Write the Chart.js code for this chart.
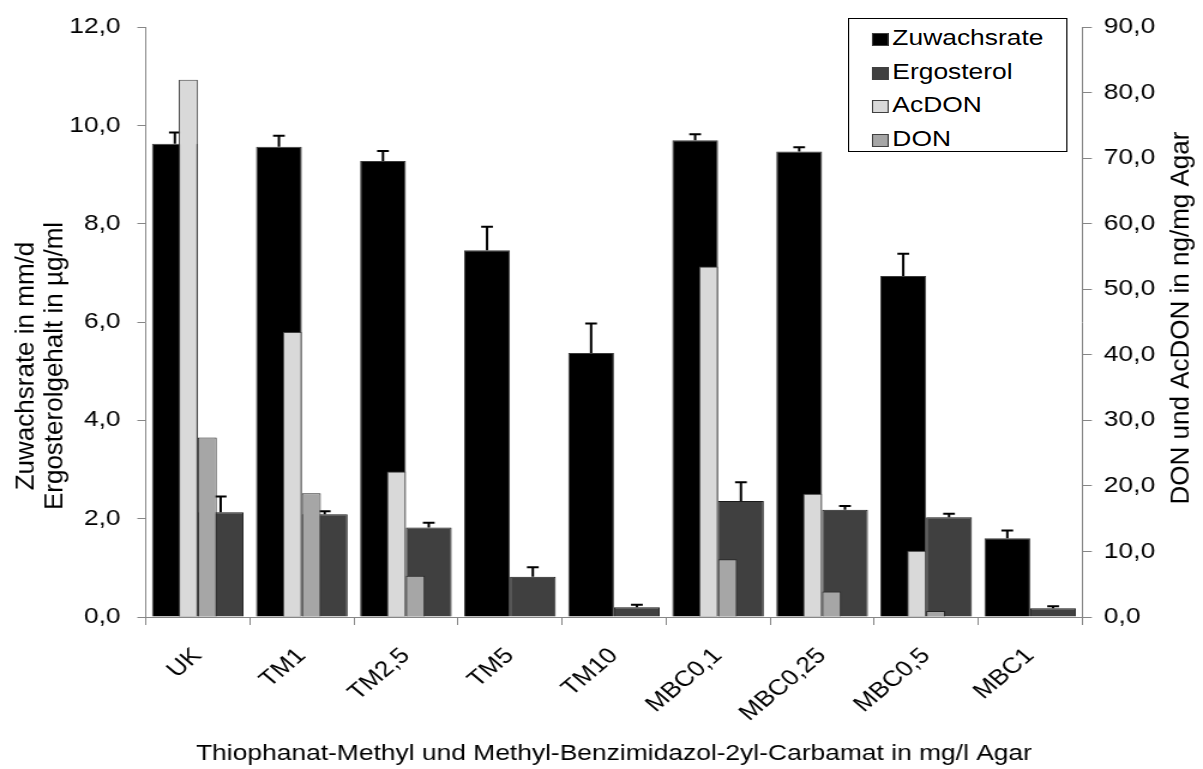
<!DOCTYPE html>
<html>
<head>
<meta charset="utf-8">
<script src="https://cdn.jsdelivr.net/npm/chart.js@4/dist/chart.umd.min.js"></script>
<style>
  html, body { margin: 0; padding: 0; background: #fff; overflow: hidden; }
  #wrap { position: absolute; left: 0; top: 0; width: 1003px; height: 769px; transform: scaleX(1.1994); transform-origin: 0 0; }
  #legend { position: absolute; left: 707px; top: 18px; width: 183px; height: 134px; border: 1px solid #000; background: #fff;
            font-family: 'Liberation Sans', Arial, sans-serif; font-size: 22px; color: #000; padding-top: 2px; box-sizing: border-box; }
  .row { height: 33.5px; line-height: 33.5px; padding-left: 19px; white-space: nowrap; }
  .box { display: inline-block; width: 12px; height: 11px; border: 1px solid #404040; margin-right: 3px; vertical-align: -1px; }
</style>
</head>
<body>
<div id="wrap">
  <canvas id="myChart" width="1003" height="769"></canvas>
  <div id="legend"></div>
</div>
<script>
const kategorien = ["UK", "TM1", "TM2,5", "TM5", "TM10", "MBC0,1", "MBC0,25", "MBC0,5", "MBC1"];
const zuwachsrate = [9.63, 9.57, 9.28, 7.46, 5.37, 9.70, 9.47, 6.94, 1.60];
const zuwachsrateFehler = [0.23, 0.22, 0.20, 0.48, 0.60, 0.12, 0.09, 0.45, 0.16];
const ergosterol = [2.13, 2.09, 1.82, 0.82, 0.20, 2.36, 2.18, 2.03, 0.18];
const ergosterolFehler = [0.32, 0.06, 0.10, 0.19, 0.05, 0.38, 0.08, 0.07, 0.04];
const acdon = [82.0, 43.5, 22.2, 0, 0, 53.5, 18.8, 10.1, 0];
const don = [27.4, 18.9, 6.3, 0, 0, 8.8, 3.9, 0.9, 0];

const linksTicks = [0, 2, 4, 6, 8, 10, 12];
const rechtsTicks = [0, 10, 20, 30, 40, 50, 60, 70, 80, 90];

const SX = 1.1994; // horizontal stretch of the whole picture
const schrift = "'Liberation Sans', Arial, sans-serif";
const achsenFarbe = "#868686";

function komma(v) {
    return Number(v).toFixed(1).replace(".", ",");
}

// bars are grouped per x axis only (primary and secondary groups overlap, like in Excel)
class GruppenBalken extends Chart.BarController {
    _calculateBarIndexPixels(index, ruler) {
        const meta = this._cachedMeta;
        const iScale = meta.iScale;
        const gruppe = [];
        this.chart.data.datasets.forEach((d, i) => {
            if (this.chart.getDatasetMeta(i).xAxisID === meta.xAxisID) gruppe.push(i);
        });
        const mitte = iScale.getPixelForValue(index);
        const kategorie = Math.abs(iScale.getPixelForValue(1) - iScale.getPixelForValue(0));
        const breite = kategorie * this.options.categoryPercentage;
        const stueck = breite / gruppe.length;
        const center = mitte - breite / 2 + stueck * gruppe.indexOf(this.index) + stueck / 2;
        const size = stueck * this.options.barPercentage;
        return { base: center - size / 2, head: center + size / 2, center, size };
    }
}
GruppenBalken.id = "gruppenBalken";
GruppenBalken.defaults = Chart.BarController.defaults;
GruppenBalken.overrides = Chart.BarController.overrides;
Chart.register(GruppenBalken);

// error bars (upper only), drawn right after their own dataset
const fehlerBalken = {
    id: "fehlerBalken",
    afterDatasetDraw(chart, args) {
        const ds = chart.data.datasets[args.index];
        if (!ds.fehler) return;
        const yScale = chart.scales[ds.yAxisID];
        const ctx = chart.ctx;
        ctx.save();
        ctx.strokeStyle = "#000";
        ctx.lineWidth = 2;
        args.meta.data.forEach((bar, i) => {
            const oben = yScale.getPixelForValue(ds.data[i] + ds.fehler[i]);
            ctx.beginPath();
            ctx.moveTo(bar.x, bar.y);
            ctx.lineTo(bar.x, oben);
            ctx.moveTo(bar.x - 4.9, oben);
            ctx.lineTo(bar.x + 4.9, oben);
            ctx.stroke();
        });
        ctx.restore();
    }
};

// axis titles
const achsenTitel = {
    id: "achsenTitel",
    afterDraw(chart) {
        const ctx = chart.ctx;
        const area = chart.chartArea;
        ctx.save();
        ctx.fillStyle = "#000";

        // x title
        ctx.font = "22px " + schrift;
        ctx.textAlign = "center";
        ctx.textBaseline = "alphabetic";
        ctx.fillText("Thiophanat-Methyl und Methyl-Benzimidazol-2yl-Carbamat in mg/l Agar", (area.left + area.right) / 2, 760);

        // vertical titles, not stretched
        const senkrecht = (text, xBild, yMitte) => {
            ctx.save();
            ctx.translate(xBild / SX, yMitte);
            ctx.scale(1 / SX, 1);
            ctx.rotate(-Math.PI / 2);
            ctx.font = "26px " + schrift;
            ctx.textAlign = "center";
            ctx.textBaseline = "alphabetic";
            ctx.fillText(text, 0, 0);
            ctx.restore();
        };
        senkrecht("Zuwachsrate in mm/d", 33, 366);
        senkrecht("Ergosterolgehalt in µg/ml", 62, 366);
        senkrecht("DON und AcDON in ng/mg Agar", 1189, 318);
        ctx.restore();
    }
};

const data = {
    labels: kategorien,
    datasets: [
        {
            type: "gruppenBalken",
            label: "Zuwachsrate",
            data: zuwachsrate,
            fehler: zuwachsrateFehler,
            backgroundColor: "#000000",
            borderColor: "#3a3a3a",
            borderWidth: 1,
            xAxisID: "x",
            yAxisID: "y",
            order: 2,
            categoryPercentage: 0.88,
            barPercentage: 1
        },
        {
            type: "gruppenBalken",
            label: "Ergosterol",
            data: ergosterol,
            fehler: ergosterolFehler,
            backgroundColor: "#404040",
            borderColor: "#1a1a1a",
            borderWidth: 1,
            xAxisID: "x",
            yAxisID: "y",
            order: 2,
            categoryPercentage: 0.88,
            barPercentage: 1
        },
        {
            type: "gruppenBalken",
            label: "AcDON",
            data: acdon,
            backgroundColor: "#d9d9d9",
            borderColor: "#404040",
            borderWidth: 1,
            xAxisID: "x2",
            yAxisID: "y2",
            order: 1,
            categoryPercentage: 0.365,
            barPercentage: 1
        },
        {
            type: "gruppenBalken",
            label: "DON",
            data: don,
            backgroundColor: "#a6a6a6",
            borderColor: "#262626",
            borderWidth: 1,
            xAxisID: "x2",
            yAxisID: "y2",
            order: 1,
            categoryPercentage: 0.365,
            barPercentage: 1
        }
    ]
};

const tickSchrift = { family: schrift, size: 22 };

const config = {
    type: "bar",
    data: data,
    options: {
        responsive: false,
        animation: false,
        devicePixelRatio: 1,
        layout: { padding: { top: 20, left: 0, right: 0, bottom: 0 } },
        plugins: { legend: { display: false }, tooltip: { enabled: false } },
        scales: {
            x: {
                type: "category",
                offset: true,
                grid: { drawOnChartArea: false, drawTicks: true, tickLength: 8, color: achsenFarbe, offset: true },
                border: { color: achsenFarbe },
                ticks: { color: "#000", font: tickSchrift, minRotation: 45, maxRotation: 45, autoSkip: false, padding: 18 },
                afterFit: (s) => { s.height = 152; }
            },
            x2: {
                type: "category",
                display: false,
                offset: true,
                grid: { offset: true }
            },
            y: {
                position: "left",
                min: 0,
                max: 12,
                afterBuildTicks: (s) => { s.ticks = linksTicks.map((v) => ({ value: v })); },
                ticks: { color: "#000", font: tickSchrift, padding: 14, callback: komma },
                grid: { drawOnChartArea: false, tickLength: 7, color: achsenFarbe },
                border: { color: achsenFarbe },
                afterFit: (s) => { s.width = 121.5; }
            },
            y2: {
                position: "right",
                min: 0,
                max: 90,
                afterBuildTicks: (s) => { s.ticks = rechtsTicks.map((v) => ({ value: v })); },
                ticks: { color: "#000", font: tickSchrift, padding: 10, callback: komma },
                grid: { drawOnChartArea: false, tickLength: 8, color: achsenFarbe },
                border: { color: achsenFarbe },
                afterFit: (s) => { s.width = 100.7; }
            }
        }
    },
    plugins: [fehlerBalken, achsenTitel]
};

const myChart = new Chart(document.getElementById("myChart").getContext("2d"), config);

// legend box, same order as the original
const legende = document.getElementById("legend");
data.datasets.forEach((ds) => {
    const row = document.createElement("div");
    row.className = "row";
    const box = document.createElement("span");
    box.className = "box";
    box.style.background = ds.backgroundColor;
    row.appendChild(box);
    row.appendChild(document.createTextNode(ds.label));
    legende.appendChild(row);
});
</script>
</body>
</html>
